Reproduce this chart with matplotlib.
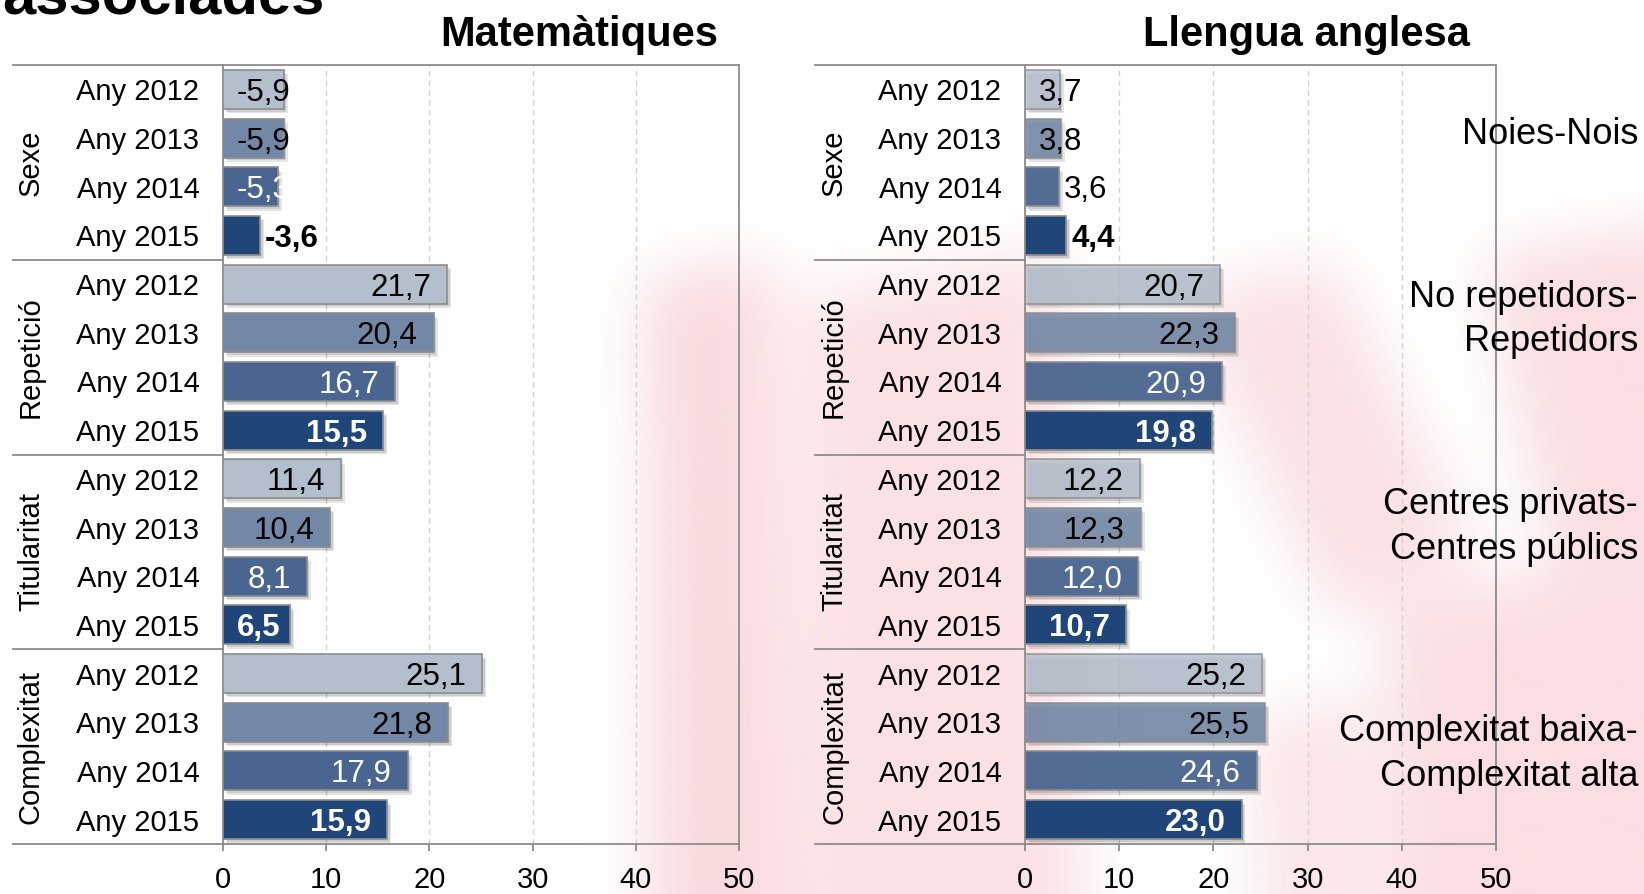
import numpy as np
import matplotlib
matplotlib.use('Agg')
import matplotlib.pyplot as plt
from matplotlib.path import Path
from matplotlib.lines import Line2D
from matplotlib.transforms import blended_transform_factory

plt.rcParams['font.family'] = ['Liberation Sans', 'DejaVu Sans']

# --- Data ---
GROUPS = ['Sexe', 'Repetició', 'Titularitat', 'Complexitat']
YEARS = ['Any 2012', 'Any 2013', 'Any 2014', 'Any 2015']
MATES = [-5.9, -5.9, -5.3, -3.6, 21.7, 20.4, 16.7, 15.5,
         11.4, 10.4, 8.1, 6.5, 25.1, 21.8, 17.9, 15.9]
ANGLES = [3.7, 3.8, 3.6, 4.4, 20.7, 22.3, 20.9, 19.8,
          12.2, 12.3, 12.0, 10.7, 25.2, 25.5, 24.6, 23.0]
NOTES = [['Noies-Nois'],
         ['No repetidors-', 'Repetidors'],
         ['Centres privats-', 'Centres públics'],
         ['Complexitat baixa-', 'Complexitat alta']]
XTICKS = [0, 10, 20, 30, 40, 50]

# --- Style / layout (pixels of a 1644x894 canvas) ---
W, H = 1644, 894
BAR_COLORS = ['#b4bfcd', '#7387a6', '#4a6590', '#1f4579']
TEXT_COLORS = ['black', 'black', 'white', 'white']
GREY = '#8c8c8c'
FS = 21
FS_VAL = 22.5
NOTE_BASELINES = [[144], [307, 351], [514, 559], [741, 786]]

# faint logo in the background: (polygon, strength)
SHAPES = [
    ([(645, 280), (770, 260), (790, 894), (650, 894)], 1.0),
    ([(800, 300), (1060, 250), (1080, 894), (800, 894)], 0.8),
    ([(1180, 300), (1330, 260), (1480, 560), (1330, 620)], 0.8),
    ([(1480, 260), (1644, 230), (1644, 560), (1560, 600)], 0.9),
    ([(1390, 600), (1644, 570), (1644, 894), (1390, 894)], 0.9),
    ([(1250, 720), (1370, 700), (1370, 894), (1260, 894)], 0.7),
]


def blur(a, r):
    for axis in (0, 1):
        pad = [(r, r) if i == axis else (0, 0) for i in range(2)]
        c = np.cumsum(np.pad(a, pad, mode='edge'), axis=axis)
        c = np.insert(c, 0, 0, axis=axis)
        n = a.shape[axis]
        a = (np.take(c, np.arange(2 * r + 1, 2 * r + 1 + n), axis=axis)
             - np.take(c, np.arange(n), axis=axis)) / (2 * r + 1)
    return a


def watermark(fig):
    step = 4
    gx, gy = np.meshgrid(np.arange(0, W, step) + step / 2, np.arange(0, H, step) + step / 2)
    pts = np.column_stack([gx.ravel(), gy.ravel()])
    field = np.zeros(gx.shape)
    for poly, k in SHAPES:
        field = np.maximum(field, Path(poly).contains_points(pts).reshape(gx.shape) * k)
    for _ in range(3):
        field = blur(field, 7)
    rgba = np.zeros(field.shape + (4,))
    rgba[..., :3] = np.array([240, 150, 160]) / 255
    rgba[..., 3] = field * 0.35
    bg = fig.add_axes([0, 0, 1, 1], zorder=-5)
    bg.imshow(rgba, extent=[0, W, H, 0], aspect='auto', interpolation='bilinear')
    bg.set_xlim(0, W)
    bg.set_ylim(H, 0)
    bg.axis('off')


def rect(x0, top, x1, bottom):
    return [x0 / W, 1 - bottom / H, (x1 - x0) / W, (bottom - top) / H]


def draw_panel(fig, box, values, line_left, group_x, alphas):
    ax = fig.add_axes(rect(*box))
    ax.patch.set_alpha(0)
    n = len(values)
    ypos = np.arange(n)
    lengths = np.abs(values)
    yr = ypos % 4

    # soft drop shadow
    ax.barh(ypos + 0.09, lengths, height=0.8, left=0.4, color='black',
            alpha=0.10, lw=0, zorder=2)
    ax.barh(ypos + 0.06, lengths, height=0.8, left=0.25, color='black',
            alpha=0.10, lw=0, zorder=2)
    for k in range(4):
        m = yr == k
        ax.barh(ypos[m], lengths[m], height=0.8, color=BAR_COLORS[k],
                edgecolor=GREY, lw=1.2, alpha=alphas[k], zorder=3)

    ax.set_xlim(0, 50)
    ax.set_ylim(n - 0.5, -0.5)
    ax.set_xticks(XTICKS)
    ax.set_xticklabels([str(t) for t in XTICKS], fontsize=FS)
    ax.set_yticks(ypos)
    ax.set_yticklabels(YEARS * 4, fontsize=FS)
    ax.tick_params(axis='y', length=0, pad=17)
    ax.tick_params(axis='x', length=5, width=1.3, color=GREY, pad=11)
    ax.grid(axis='x', ls=(0, (4, 3)), color='#d2d2d2', lw=1)
    ax.set_axisbelow(True)
    for s in ax.spines.values():
        s.set_color(GREY)
        s.set_linewidth(1.3)

    # category block: separators and rotated group names
    tr = blended_transform_factory(fig.transFigure, ax.transData)
    x_ax = box[0] / W
    for b in [-0.5, 3.5, 7.5, 11.5, 15.5]:
        ax.add_line(Line2D([line_left / W, x_ax], [b, b], transform=tr,
                           color=GREY, lw=1.3, clip_on=False))
    for g, name in enumerate(GROUPS):
        ax.text(group_x / W, 4 * g + 1.5, name, transform=tr, rotation=90,
                ha='center', va='center', fontsize=FS)

    # value labels: inside end, pushed right of the bar start, or outside
    renderer = fig.canvas.get_renderer()
    ppu = ax.transData.transform((1, 0))[0] - ax.transData.transform((0, 0))[0]
    for i, v in enumerate(values):
        k = yr[i]
        L = lengths[i]
        t = ax.text(L, i, f'{v:.1f}'.replace('.', ','), ha='left', va='center_baseline',
                    fontsize=FS_VAL, fontweight='bold' if k == 3 else 'normal', zorder=5)
        w = t.get_window_extent(renderer).width / ppu
        x = L - 16 / ppu - w
        color = TEXT_COLORS[k]
        if x < 14 / ppu:
            x = 14 / ppu
            if k >= 2 and x + w > L + 0.3 * w:
                x = L + 5 / ppu
                color = 'black'
        t.set_x(x)
        t.set_color(color)
    return ax


fig = plt.figure(figsize=(W / 100, H / 100), dpi=100)
watermark(fig)

draw_panel(fig, (223, 65, 739, 844), np.array(MATES), 13, 31, [1, 1, 1, 1])
draw_panel(fig, (1025, 65, 1496, 844), np.array(ANGLES), 815, 834, [0.82, 0.86, 0.93, 1])

fig.text(2 / W, 1 - 13 / H, 'associades', ha='left', va='baseline',
         fontsize=43, fontweight='bold')
fig.text(579 / W, 1 - 46 / H, 'Matemàtiques', ha='center', va='baseline',
         fontsize=30, fontweight='bold')
fig.text(1306 / W, 1 - 46 / H, 'Llengua anglesa', ha='center', va='baseline',
         fontsize=30, fontweight='bold')

for lines, bases in zip(NOTES, NOTE_BASELINES):
    for txt, yb in zip(lines, bases):
        fig.text(1638 / W, 1 - yb / H, txt, ha='right', va='baseline', fontsize=26)

fig.savefig('out.png', dpi=100)
